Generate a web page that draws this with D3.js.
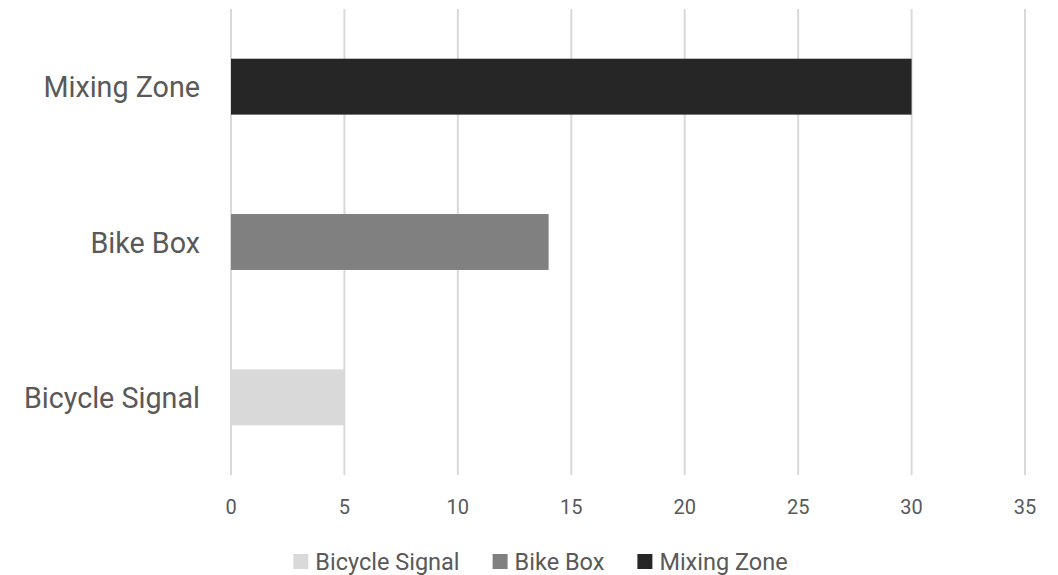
<!DOCTYPE html>
<html>
<head>
<meta charset="utf-8">
<script src="https://cdn.jsdelivr.net/npm/d3@7"></script>
<style>
  body { margin: 0; background: #fff; }
  text { font-family: Roboto, "Noto Sans", sans-serif; fill: #595959; }
</style>
</head>
<body>
<script>
// bar chart - counts per treatment type
const W = 1058, H = 575;

const categories = ["Bicycle Signal", "Bike Box", "Mixing Zone"];
const values = [5, 14, 30];
const barColors = ["#d9d9d9", "#808080", "#262626"];
const xTicks = [0, 5, 10, 15, 20, 25, 30, 35];

const plot = { left: 231, right: 1025, top: 9, bottom: 475 };

const svg = d3.select("body").append("svg")
    .attr("width", W)
    .attr("height", H);

const x = d3.scaleLinear().domain([0, 35]).range([plot.left, plot.right]);
// categories go bottom-to-top like Excel
const y = d3.scaleBand()
    .domain(categories.slice().reverse())
    .range([plot.top, plot.bottom])
    .paddingInner(0.64)
    .paddingOuter(0.32);

// gridlines
svg.append("g").selectAll("line")
    .data(xTicks)
    .join("line")
    .attr("x1", d => x(d)).attr("x2", d => x(d))
    .attr("y1", plot.top).attr("y2", plot.bottom)
    .attr("stroke", "#d9d9d9")
    .attr("stroke-width", 2);

// bars
svg.append("g").selectAll("rect")
    .data(categories)
    .join("rect")
    .attr("x", x(0))
    .attr("y", d => y(d))
    .attr("width", (d, i) => x(values[i]) - x(0))
    .attr("height", y.bandwidth())
    .attr("fill", (d, i) => barColors[i]);

// category labels
svg.append("g").selectAll("text")
    .data(categories)
    .join("text")
    .attr("x", 200)
    .attr("y", d => y(d) + y.bandwidth() / 2 + 10.5)
    .attr("text-anchor", "end")
    .attr("font-size", 28.7)
    .text(d => d);

// x tick labels
svg.append("g").selectAll("text")
    .data(xTicks)
    .join("text")
    .attr("x", d => x(d))
    .attr("y", 514)
    .attr("text-anchor", "middle")
    .attr("font-size", 20)
    .text(d => d);

// legend
const legend = svg.append("g");
const items = legend.selectAll("g")
    .data(categories)
    .join("g");
items.append("rect")
    .attr("width", 15).attr("height", 15)
    .attr("y", 554)
    .attr("fill", (d, i) => barColors[i]);
items.append("text")
    .attr("x", 22)
    .attr("y", 570)
    .attr("font-size", 23.5)
    .text(d => d);

let lx = 0;
items.each(function() {
    const g = d3.select(this);
    g.attr("transform", `translate(${lx},0)`);
    lx += 22 + g.select("text").node().getComputedTextLength() + 33;
});
const legendW = lx - 33;
legend.attr("transform", `translate(${540.5 - legendW / 2},0)`);
</script>
</body>
</html>
